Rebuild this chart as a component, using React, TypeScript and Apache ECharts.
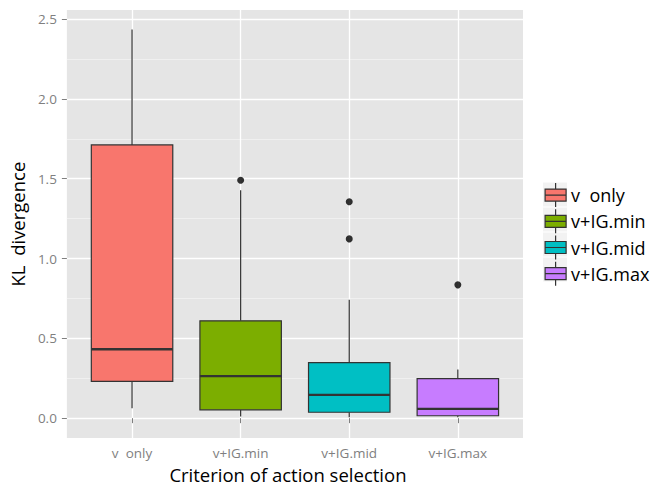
import React, { useEffect, useRef } from "react";
import * as echarts from "echarts";

const categories = ["v  only", "v+IG.min", "v+IG.mid", "v+IG.max"];
const colors = ["#F8766D", "#7CAE00", "#00BFC4", "#C77CFF"];
// [min, q1, median, q3, max] per category
const boxStats = [
  [0.062, 0.23, 0.432, 1.712, 2.435],
  [0.011, 0.052, 0.263, 0.61, 1.427],
  [0.005, 0.037, 0.146, 0.348, 0.741],
  [0.005, 0.015, 0.058, 0.248, 0.304],
];
const outliers = [[], [1.49], [1.356, 1.123], [0.835]];
const yMajorTicks = [0, 0.5, 1.0, 1.5, 2.0, 2.5];
const yMinorTicks = [0.25, 0.75, 1.25, 1.75, 2.25];
const xTicks = [1, 2, 3, 4];

const FONT = "Open Sans";

export default function App() {
  const ref = useRef<HTMLDivElement>(null);
  useEffect(() => {
    document.body.style.margin = "0";
    const chart = echarts.init(ref.current!, null, { renderer: "svg" });

    const keyLeft = 543;
    const keyTop = 182.5;
    const keySize = 24;
    const keyGap = 1;

    const boxSeries = categories.map((name, i) => ({
      type: "custom",
      name,
      xAxisIndex: 0,
      yAxisIndex: 0,
      itemStyle: { color: colors[i] },
      encode: { x: 0, y: [1, 2, 3, 4, 5] },
      data: [[i + 1, ...boxStats[i]]],
      renderItem: (params: any, api: any) => {
        const x = api.value(0);
        const pMin = api.coord([x, api.value(1)]);
        const pQ1 = api.coord([x, api.value(2)]);
        const pMed = api.coord([x, api.value(3)]);
        const pQ3 = api.coord([x, api.value(4)]);
        const pMax = api.coord([x, api.value(5)]);
        const halfW = api.size([0.75, 0])[0] / 2;
        const stroke = "#333333";
        return {
          type: "group",
          children: [
            { type: "line", shape: { x1: pMax[0], y1: pMax[1], x2: pQ3[0], y2: pQ3[1] }, style: { stroke, lineWidth: 1.2 } },
            { type: "line", shape: { x1: pMin[0], y1: pMin[1], x2: pQ1[0], y2: pQ1[1] }, style: { stroke, lineWidth: 1.2 } },
            {
              type: "rect",
              shape: { x: pQ3[0] - halfW, y: pQ3[1], width: 2 * halfW, height: pQ1[1] - pQ3[1] },
              style: { fill: api.visual("color"), stroke, lineWidth: 1.2 },
            },
            { type: "line", shape: { x1: pMed[0] - halfW, y1: pMed[1], x2: pMed[0] + halfW, y2: pMed[1] }, style: { stroke, lineWidth: 2.4 } },
          ],
        };
      },
    }));

    const outlierData: number[][] = [];
    outliers.forEach((arr, i) => arr.forEach((v) => outlierData.push([i + 1, v])));

    chart.setOption({
      animation: false,
      textStyle: { fontFamily: FONT },
      grid: {
        left: 64,
        top: 10,
        width: 459,
        height: 437,
        show: true,
        backgroundColor: "#E5E5E5",
        borderWidth: 0,
      },
      xAxis: {
        type: "value",
        min: 0.4,
        max: 4.6,
        name: "Criterion of action selection",
        nameLocation: "middle",
        nameGap: 26,
        nameTextStyle: { color: "#000", fontSize: 18.5, fontFamily: FONT, padding: [0, 14, 0, 0] },
        axisLine: { show: false },
        axisTick: { show: true, length: 5, lineStyle: { color: "#7F7F7F", width: 1 }, customValues: xTicks },
        axisLabel: {
          customValues: xTicks,
          margin: 8,
          color: "#7F7F7F",
          fontSize: 13.5,
          fontFamily: FONT,
          formatter: (v: number) => categories[Math.round(v) - 1] ?? "",
        },
        splitLine: { show: true, lineStyle: { color: "#FFFFFF", width: 1.3 } },
      },
      yAxis: [
        {
          type: "value",
          min: -0.125,
          max: 2.557,
          name: "KL  divergence",
          nameLocation: "middle",
          nameGap: 36,
          nameTextStyle: { color: "#000", fontSize: 18.5, fontFamily: FONT },
          axisLine: { show: false },
          axisTick: { show: true, length: 5, lineStyle: { color: "#7F7F7F", width: 1 }, customValues: yMajorTicks },
          axisLabel: {
            customValues: yMajorTicks,
            margin: 10,
            color: "#7F7F7F",
            fontSize: 13.5,
            fontFamily: FONT,
            formatter: (v: number) => v.toFixed(1),
          },
          splitLine: { show: true, lineStyle: { color: "#FFFFFF", width: 1.3 } },
        },
        {
          type: "value",
          min: -0.125,
          max: 2.557,
          position: "left",
          axisLine: { show: false },
          axisTick: { show: false, customValues: yMinorTicks },
          axisLabel: { show: false, customValues: yMinorTicks },
          splitLine: { show: true, lineStyle: { color: "#F2F2F2", width: 0.8 } },
        },
      ],
      legend: {
        orient: "vertical",
        left: keyLeft + 1.5,
        top: keyTop,
        padding: 0,
        itemWidth: keySize - 3,
        itemHeight: keySize,
        itemGap: keyGap,
        selectedMode: false,
        data: categories,
        icon: "path://M12,0V6M12,18V24M1.5,6H22.5V18H1.5ZM1.5,12H22.5",
        itemStyle: { borderColor: "#333333", borderWidth: 1.2 },
        textStyle: { color: "#000", fontSize: 18, fontFamily: FONT },
      },
      graphic: categories.map((_, i) => ({
        type: "rect",
        z: -1,
        shape: { x: keyLeft, y: keyTop + i * (keySize + keyGap), width: keySize, height: keySize },
        style: { fill: "#F2F2F2" },
      })),
      series: [
        ...boxSeries,
        {
          type: "scatter",
          name: "outliers",
          xAxisIndex: 0,
          yAxisIndex: 0,
          symbolSize: 7,
          itemStyle: { color: "#000" },
          data: outlierData,
          z: 5,
        },
      ],
    });
    return () => chart.dispose();
  }, []);
  return <div ref={ref} style={{ width: 656, height: 489 }} />;
}
